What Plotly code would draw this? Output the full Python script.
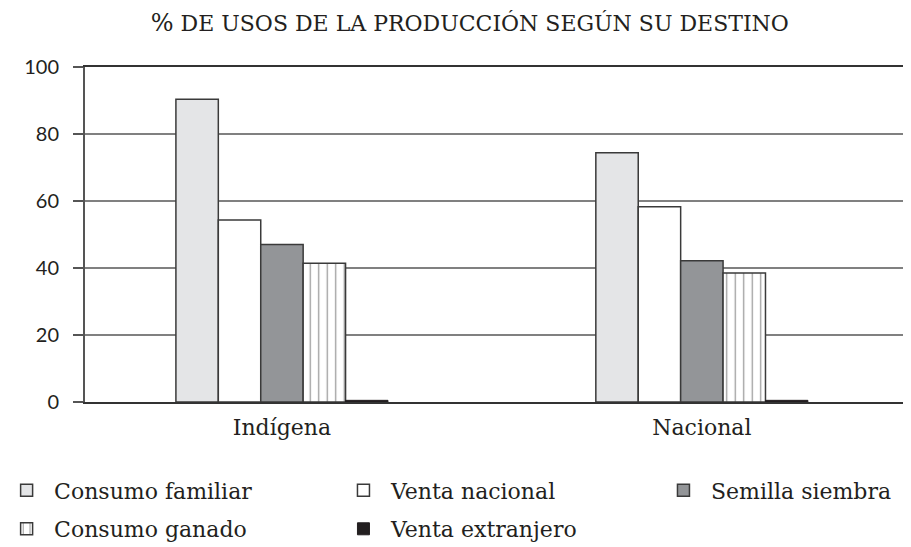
import plotly.graph_objects as go

categorias = ['Indígena', 'Nacional']
consumo_familiar = [90.4, 74.4]
venta_nacional = [54.3, 58.3]
semilla_siembra = [47.0, 42.2]
consumo_ganado = [41.4, 38.5]
venta_extranjero = [0.5, 0.5]

serif = 'DejaVu Serif'
borde = dict(color='#3a3a3a', width=1.5)

fig = go.Figure()
fig.add_trace(go.Bar(x=categorias, y=consumo_familiar, name='Consumo familiar',
                     marker=dict(color='#e4e5e7', line=borde),
                     legend='legend', legendgroup='a'))
fig.add_trace(go.Bar(x=categorias, y=venta_nacional, name='Venta nacional',
                     marker=dict(color='#ffffff', line=borde),
                     legend='legend2', legendgroup='b'))
fig.add_trace(go.Bar(x=categorias, y=semilla_siembra, name='Semilla siembra',
                     marker=dict(color='#939598', line=borde),
                     legend='legend3', legendgroup='c'))
fig.add_trace(go.Bar(x=categorias, y=consumo_ganado, name='Consumo ganado',
                     marker=dict(color='#ffffff', line=borde,
                                 pattern=dict(shape='|', size=8.5, solidity=0.15,
                                              fgcolor='#333333', bgcolor='#ffffff')),
                     legend='legend', legendgroup='d'))
fig.add_trace(go.Bar(x=categorias, y=venta_extranjero, name='Venta extranjero',
                     marker=dict(color='#231f20', line=dict(color='#231f20', width=1)),
                     legend='legend2', legendgroup='e'))

# page body has an 8px margin, so the figure is kept a bit smaller
leg = dict(orientation='v', yanchor='top', xanchor='left',
           xref='paper', yref='container', y=0.144,
           font=dict(family=serif, size=22, color='#231f20'),
           bgcolor='rgba(0,0,0,0)', tracegroupgap=7, itemclick=False,
           itemwidth=45)

fig.update_layout(
    width=895, height=539,
    margin=dict(l=77, r=0, t=59, b=145, autoexpand=False),
    paper_bgcolor='white', plot_bgcolor='white',
    barmode='group', bargap=0.495, bargroupgap=0,
    title=dict(text='<span style="font-size:24px">%</span> DE USOS DE LA PRODUCCIÓN SEGÚN SU DESTINO',
               x=0.516, xanchor='center', xref='container',
               y=0.972, yanchor='middle', yref='container',
               font=dict(family=serif, size=22, color='#231f20')),
    legend={**leg, 'x': -0.105},
    legend2={**leg, 'x': 0.3068},
    legend3={**leg, 'x': 0.698},
    xaxis=dict(range=[-0.469, 1.479], showline=True, mirror=True,
               linecolor='#333333', linewidth=2, ticks='', ticklabelstandoff=5,
               tickfont=dict(family=serif, size=22, color='#231f20')),
    yaxis=dict(range=[0, 100], tickvals=[0, 20, 40, 60, 80, 100],
               showgrid=True, gridcolor='#808080', gridwidth=1.5,
               showline=True, linecolor='#555555', linewidth=2,
               ticks='outside', ticklen=10, tickcolor='#555555', tickwidth=1.5,
               zeroline=False, ticklabelstandoff=10,
               tickfont=dict(family='Lato', size=20, color='#231f20')),
)

fig.write_html('out.html')
